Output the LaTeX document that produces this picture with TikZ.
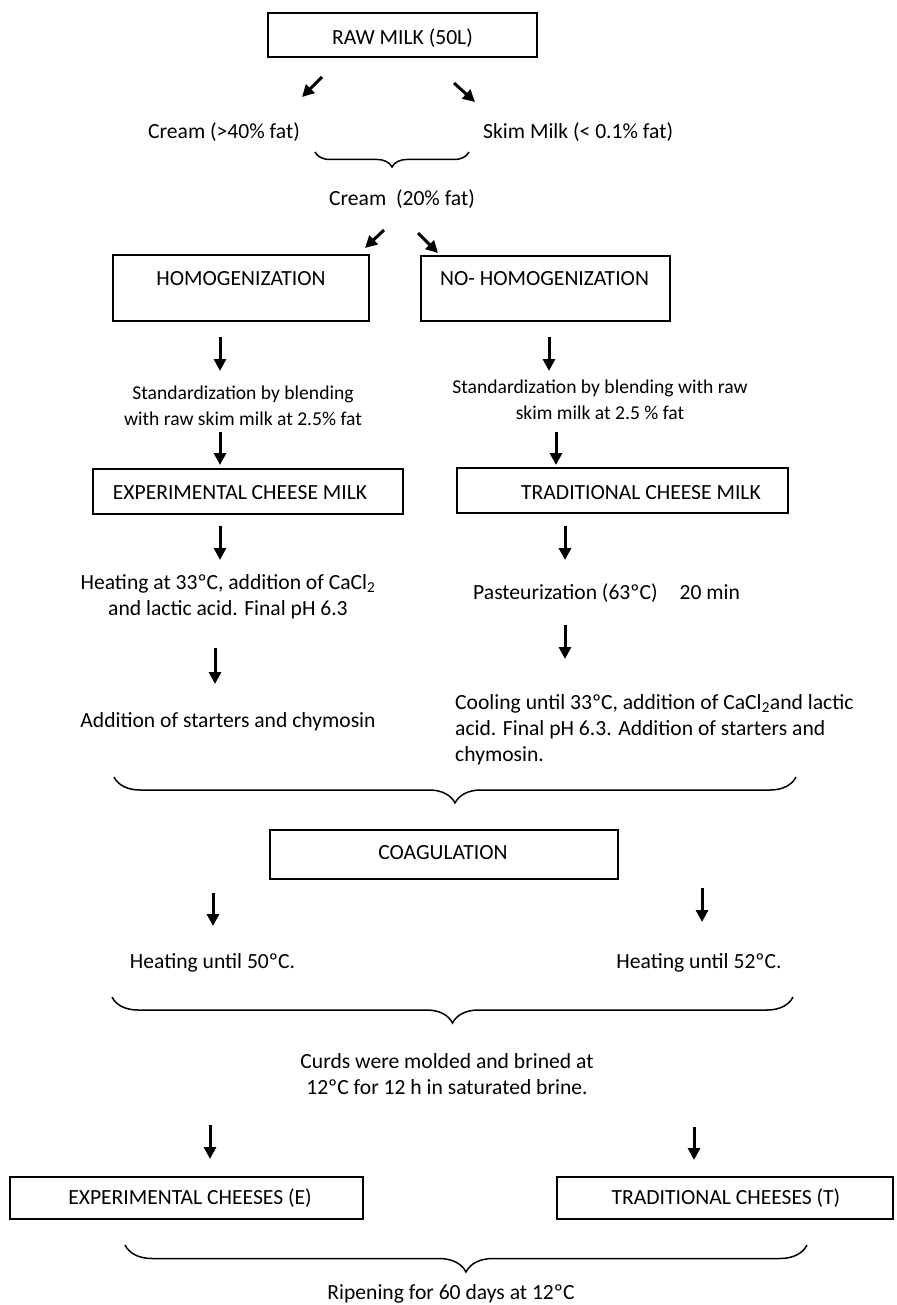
\documentclass[tikz,border=0pt]{standalone}
\usepackage{fontspec}
\setmainfont{Carlito}
\usetikzlibrary{arrows.meta,decorations.pathreplacing}
\begin{document}
\begin{tikzpicture}[x=1pt,y=-1pt,
  box/.style={draw, line width=2.8pt, inner sep=0pt},
  txt/.style={font=\fontsize{21.6}{26}\selectfont, inner sep=0pt, align=center},
  small/.style={font=\fontsize{19.6}{26}\selectfont, inner sep=0pt, align=center},
  arr/.style={line width=3pt, -{Triangle[length=12pt,width=12pt]}},
  brc/.style={decorate, decoration={brace, mirror, amplitude=#1}, line width=1.5pt}]
\useasboundingbox (0,0) rectangle (896,1305);
\fill[white] (0,0) rectangle (896,1305);

% --- top ---
\node[box, minimum width=269pt, minimum height=44pt] (raw) at (402.5,35) {};
\node[txt] (rawt) at (402.5,38) {RAW MILK (50L)};
\coordinate (a1s) at (322,77); \coordinate (a1e) at (302,97);
\coordinate (a2s) at (454,83); \coordinate (a2e) at (475,102);
\draw[arr] (a1s) -- (a1e);
\draw[arr] (a2s) -- (a2e);
\node[txt, anchor=east] (cr40) at (300,132) {Cream (>40\% fat)};
\node[txt, anchor=west] (skim) at (483,132) {Skim Milk (< 0.1\% fat)};
\coordinate (b1l) at (315,152); \coordinate (b1r) at (469,152);
\draw[brc=15pt] (b1l) -- (b1r);
\node[txt] (cr20) at (402,199) {Cream\ \ (20\% fat)};

\coordinate (a3s) at (384,230); \coordinate (a3e) at (365,248);
\coordinate (a4s) at (418,233); \coordinate (a4e) at (438,253);
\draw[arr] (a3s) -- (a3e);
\draw[arr] (a4s) -- (a4e);

% --- homogenization ---
\node[box, minimum width=256pt, minimum height=66pt] (hom) at (241,288) {};
\node[txt] (homt) at (241,279) {HOMOGENIZATION};
\node[box, minimum width=249pt, minimum height=65pt] (nohom) at (545.5,288.5) {};
\node[txt] (nohomt) at (544.5,279) {NO- HOMOGENIZATION};

\coordinate (a5s) at (220,337); \coordinate (a5e) at (220,371);
\coordinate (a6s) at (549,337); \coordinate (a6e) at (549,371);
\draw[arr] (a5s) -- (a5e);
\draw[arr] (a6s) -- (a6e);

\node[small] (stdl) at (243,406) {Standardization by blending\\with raw skim milk at 2.5\% fat};
\node[small] (stdr) at (600,399.5) {Standardization by blending with raw\\skim milk at 2.5 \% fat};

\coordinate (a7s) at (220,432); \coordinate (a7e) at (220,465);
\coordinate (a8s) at (556,432); \coordinate (a8e) at (556,465);
\draw[arr] (a7s) -- (a7e);
\draw[arr] (a8s) -- (a8e);

% --- cheese milks ---
\node[box, minimum width=310pt, minimum height=45pt] (expm) at (248,491.5) {};
\node[txt] (expmt) at (240,493) {EXPERIMENTAL CHEESE MILK};
\node[box, minimum width=331pt, minimum height=45pt] (tradm) at (622.5,490.5) {};
\node[txt] (tradmt) at (641,493) {TRADITIONAL CHEESE MILK};

\coordinate (a9s) at (220,526); \coordinate (a9e) at (220,560);
\coordinate (a10s) at (565,526); \coordinate (a10e) at (565,560);
\draw[arr] (a9s) -- (a9e);
\draw[arr] (a10s) -- (a10e);

\node[txt] (heat33) at (228,597) {Heating at 33ºC, addition of CaCl\textsubscript{2}\\and lactic acid. Final pH 6.3};
\node[txt, anchor=west] (past) at (473,593) {Pasteurization (63ºC)\hspace*{22pt}20 min};

\coordinate (a11s) at (215,648); \coordinate (a11e) at (215,684);
\coordinate (a12s) at (565,625); \coordinate (a12e) at (565,659);
\draw[arr] (a11s) -- (a11e);
\draw[arr] (a12s) -- (a12e);

\node[txt] (start) at (228,722) {Addition of starters and chymosin};
\node[txt, anchor=west, align=left] (cool) at (455,730) {Cooling until 33ºC, addition of CaCl\textsubscript{2}and lactic\\acid. Final pH 6.3. Addition of starters and\\chymosin.};

\coordinate (b2l) at (114,777); \coordinate (b2r) at (796,777);
\draw[brc=26pt] (b2l) -- (b2r);

% --- coagulation ---
\node[box, minimum width=348pt, minimum height=49pt] (coag) at (444,854.5) {};
\node[txt] (coagt) at (443,853) {COAGULATION};

\coordinate (a13s) at (213,893); \coordinate (a13e) at (213,926);
\coordinate (a14s) at (702,888); \coordinate (a14e) at (702,922);
\draw[arr] (a13s) -- (a13e);
\draw[arr] (a14s) -- (a14e);

\node[txt] (h50) at (212.5,963) {Heating until 50ºC.};
\node[txt] (h52) at (699,963) {Heating until 52ºC.};

\coordinate (b3l) at (112,997); \coordinate (b3r) at (793,997);
\draw[brc=26pt] (b3l) -- (b3r);

\node[txt] (curds) at (447,1074) {Curds were molded and brined at\\12ºC for 12 h in saturated brine.};

\coordinate (a15s) at (210,1125); \coordinate (a15e) at (210,1159);
\coordinate (a16s) at (694,1127); \coordinate (a16e) at (694,1160);
\draw[arr] (a15s) -- (a15e);
\draw[arr] (a16s) -- (a16e);

% --- cheeses ---
\node[box, minimum width=353pt, minimum height=42pt] (expc) at (186.5,1198) {};
\node[txt] (expct) at (190,1198) {EXPERIMENTAL CHEESES (E)};
\node[box, minimum width=336pt, minimum height=42pt] (tradc) at (725,1198) {};
\node[txt] (tradct) at (726,1198) {TRADITIONAL CHEESES (T)};

\coordinate (b4l) at (125,1245); \coordinate (b4r) at (807,1245);
\draw[brc=27pt] (b4l) -- (b4r);

\node[txt] (ripen) at (451,1294) {Ripening for 60 days at 12ºC};
\end{tikzpicture}
\end{document}
